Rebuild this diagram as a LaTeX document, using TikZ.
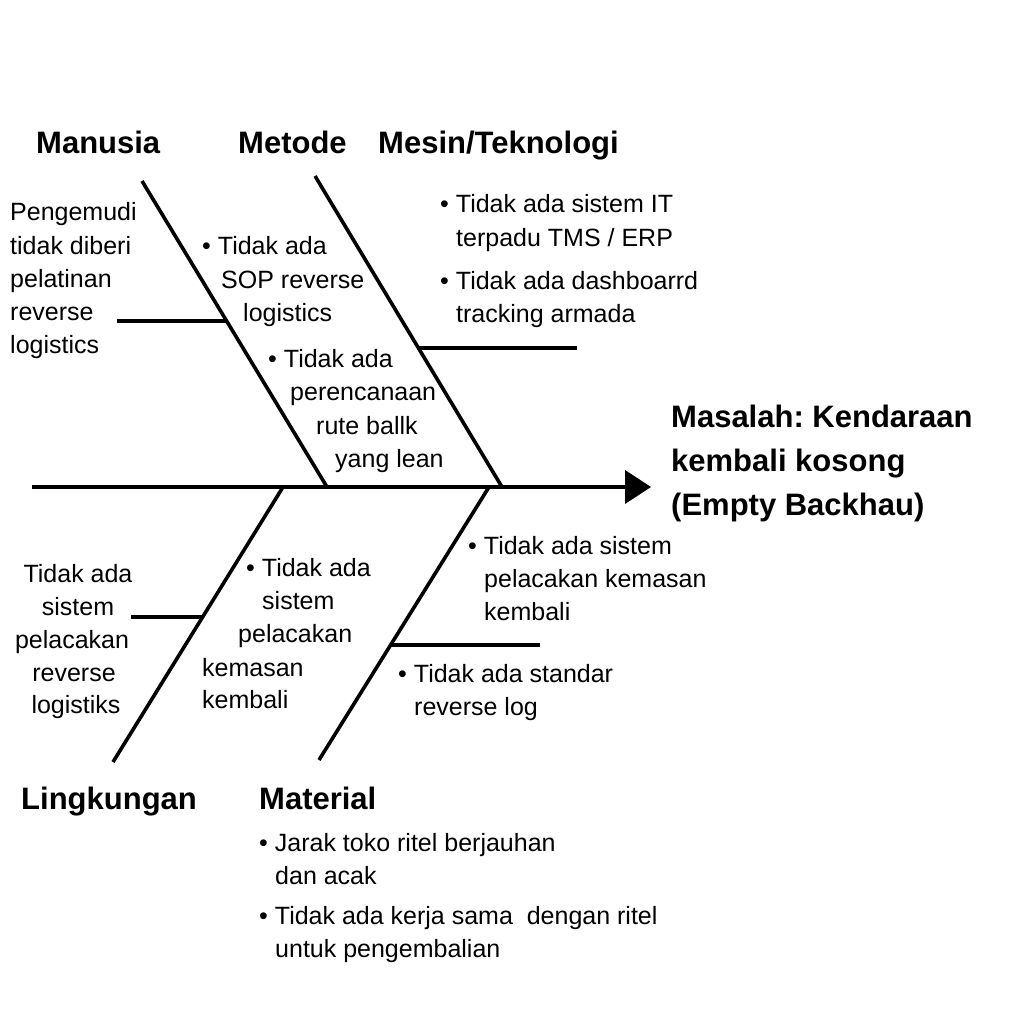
\documentclass[tikz,border=0pt]{standalone}
\usepackage{fontspec}
\setmainfont{Liberation Sans}
\frenchspacing
\begin{document}
\begin{tikzpicture}[x=1pt,y=-1pt,
  bone/.style={line width=3.6pt},
  title/.style={anchor=base west,inner sep=0pt,font=\fontsize{31}{36}\selectfont\bfseries},
  body/.style={anchor=base west,inner sep=0pt,font=\fontsize{25}{33}\selectfont},
  cbody/.style={anchor=base,inner sep=0pt,font=\fontsize{25}{33}\selectfont}]
\useasboundingbox[fill=white] (0,0) rectangle (1024,1024);
% spine
\coordinate (s0) at (32,487);
\coordinate (s1) at (628,487);
\coordinate (tip) at (651,487);
\draw[bone] (s0) -- (s1);
\fill (625,470) -- (tip) -- (625,504) -- cycle;
% bones
\coordinate (m1) at (142,181); \coordinate (m2) at (327,487);
\coordinate (d1) at (315,176); \coordinate (d2) at (502,487);
\coordinate (l1) at (283,487); \coordinate (l2) at (113,762);
\coordinate (t1) at (489,487); \coordinate (t2) at (319,760);
\draw[bone] (m1) -- (m2);
\draw[bone] (d1) -- (d2);
\draw[bone] (l1) -- (l2);
\draw[bone] (t1) -- (t2);
% branches
\coordinate (mb1) at (117,321); \coordinate (mb2) at (226,321);
\coordinate (db1) at (419,348); \coordinate (db2) at (577,348);
\coordinate (lb1) at (131,617); \coordinate (lb2) at (203,617);
\coordinate (tb1) at (391,645); \coordinate (tb2) at (540,645);
\draw[bone] (mb1) -- (mb2);
\draw[bone] (db1) -- (db2);
\draw[bone] (lb1) -- (lb2);
\draw[bone] (tb1) -- (tb2);
% titles
\node[title] (tman) at (36,154) {Manusia};
\node[title] (tmet) at (238,154) {Metode};
\node[title] (tmes) at (378,154) {Mesin/Teknologi};
\node[title] (tlin) at (21,809) {Lingkungan};
\node[title] (tmat) at (259,809) {Material};
\node[title] (prob1) at (671,427) {Masalah: Kendaraan};
\node[title] (prob2) at (671,471) {kembali kosong};
\node[title] (prob3) at (671,515) {(Empty Backhau)};
% Manusia cause
\node[body] (mc1) at (10,221) {Pengemudi};
\node[body] (mc2) at (10,254) {tidak diberi};
\node[body] (mc3) at (10,287) {pelatinan};
\node[body] (mc4) at (10,320) {reverse};
\node[body] (mc5) at (10,353) {logistics};
% Metode causes
\node[body] (dc1) at (202,254) {• Tidak ada};
\node[body] (dc2) at (221,288) {SOP reverse};
\node[body] (dc3) at (243,321) {logistics};
\node[body] (dc4) at (268,367) {• Tidak ada};
\node[body] (dc5) at (290,400) {perencanaan};
\node[body] (dc6) at (316,434) {rute ballk};
\node[body] (dc7) at (335,467) {yang lean};
% Mesin causes
\node[body] (ec1) at (440,213) {• Tidak ada sistem IT};
\node[body] (ec2) at (456,246) {terpadu TMS / ERP};
\node[body] (ec3) at (440,289) {• Tidak ada dashboarrd};
\node[body] (ec4) at (456,322) {tracking armada};
% Lingkungan causes
\node[cbody] (lc1) at (78,582) {Tidak ada};
\node[cbody] (lc2) at (78,615) {sistem};
\node[cbody] (lc3) at (72,648) {pelacakan};
\node[cbody] (lc4) at (74,681) {reverse};
\node[cbody] (lc5) at (76,713) {logistiks};
\node[body] (lc6) at (246,576) {• Tidak ada};
\node[body] (lc7) at (262,609) {sistem};
\node[body] (lc8) at (238,642) {pelacakan};
\node[body] (lc9) at (202,676) {kemasan};
\node[body] (lc10) at (202,708) {kembali};
% Material causes
\node[body] (tc1) at (468,554) {• Tidak ada sistem};
\node[body] (tc2) at (484,587) {pelacakan kemasan};
\node[body] (tc3) at (484,620) {kembali};
\node[body] (tc4) at (398,682) {• Tidak ada standar};
\node[body] (tc5) at (414,715) {reverse log};
\node[body] (tc6) at (259,851) {• Jarak toko ritel berjauhan};
\node[body] (tc7) at (275,884) {dan acak};
\node[body] (tc8) at (259,924) {• Tidak ada kerja sama\ \ dengan ritel};
\node[body] (tc9) at (275,957) {untuk pengembalian};
\end{tikzpicture}
\end{document}
